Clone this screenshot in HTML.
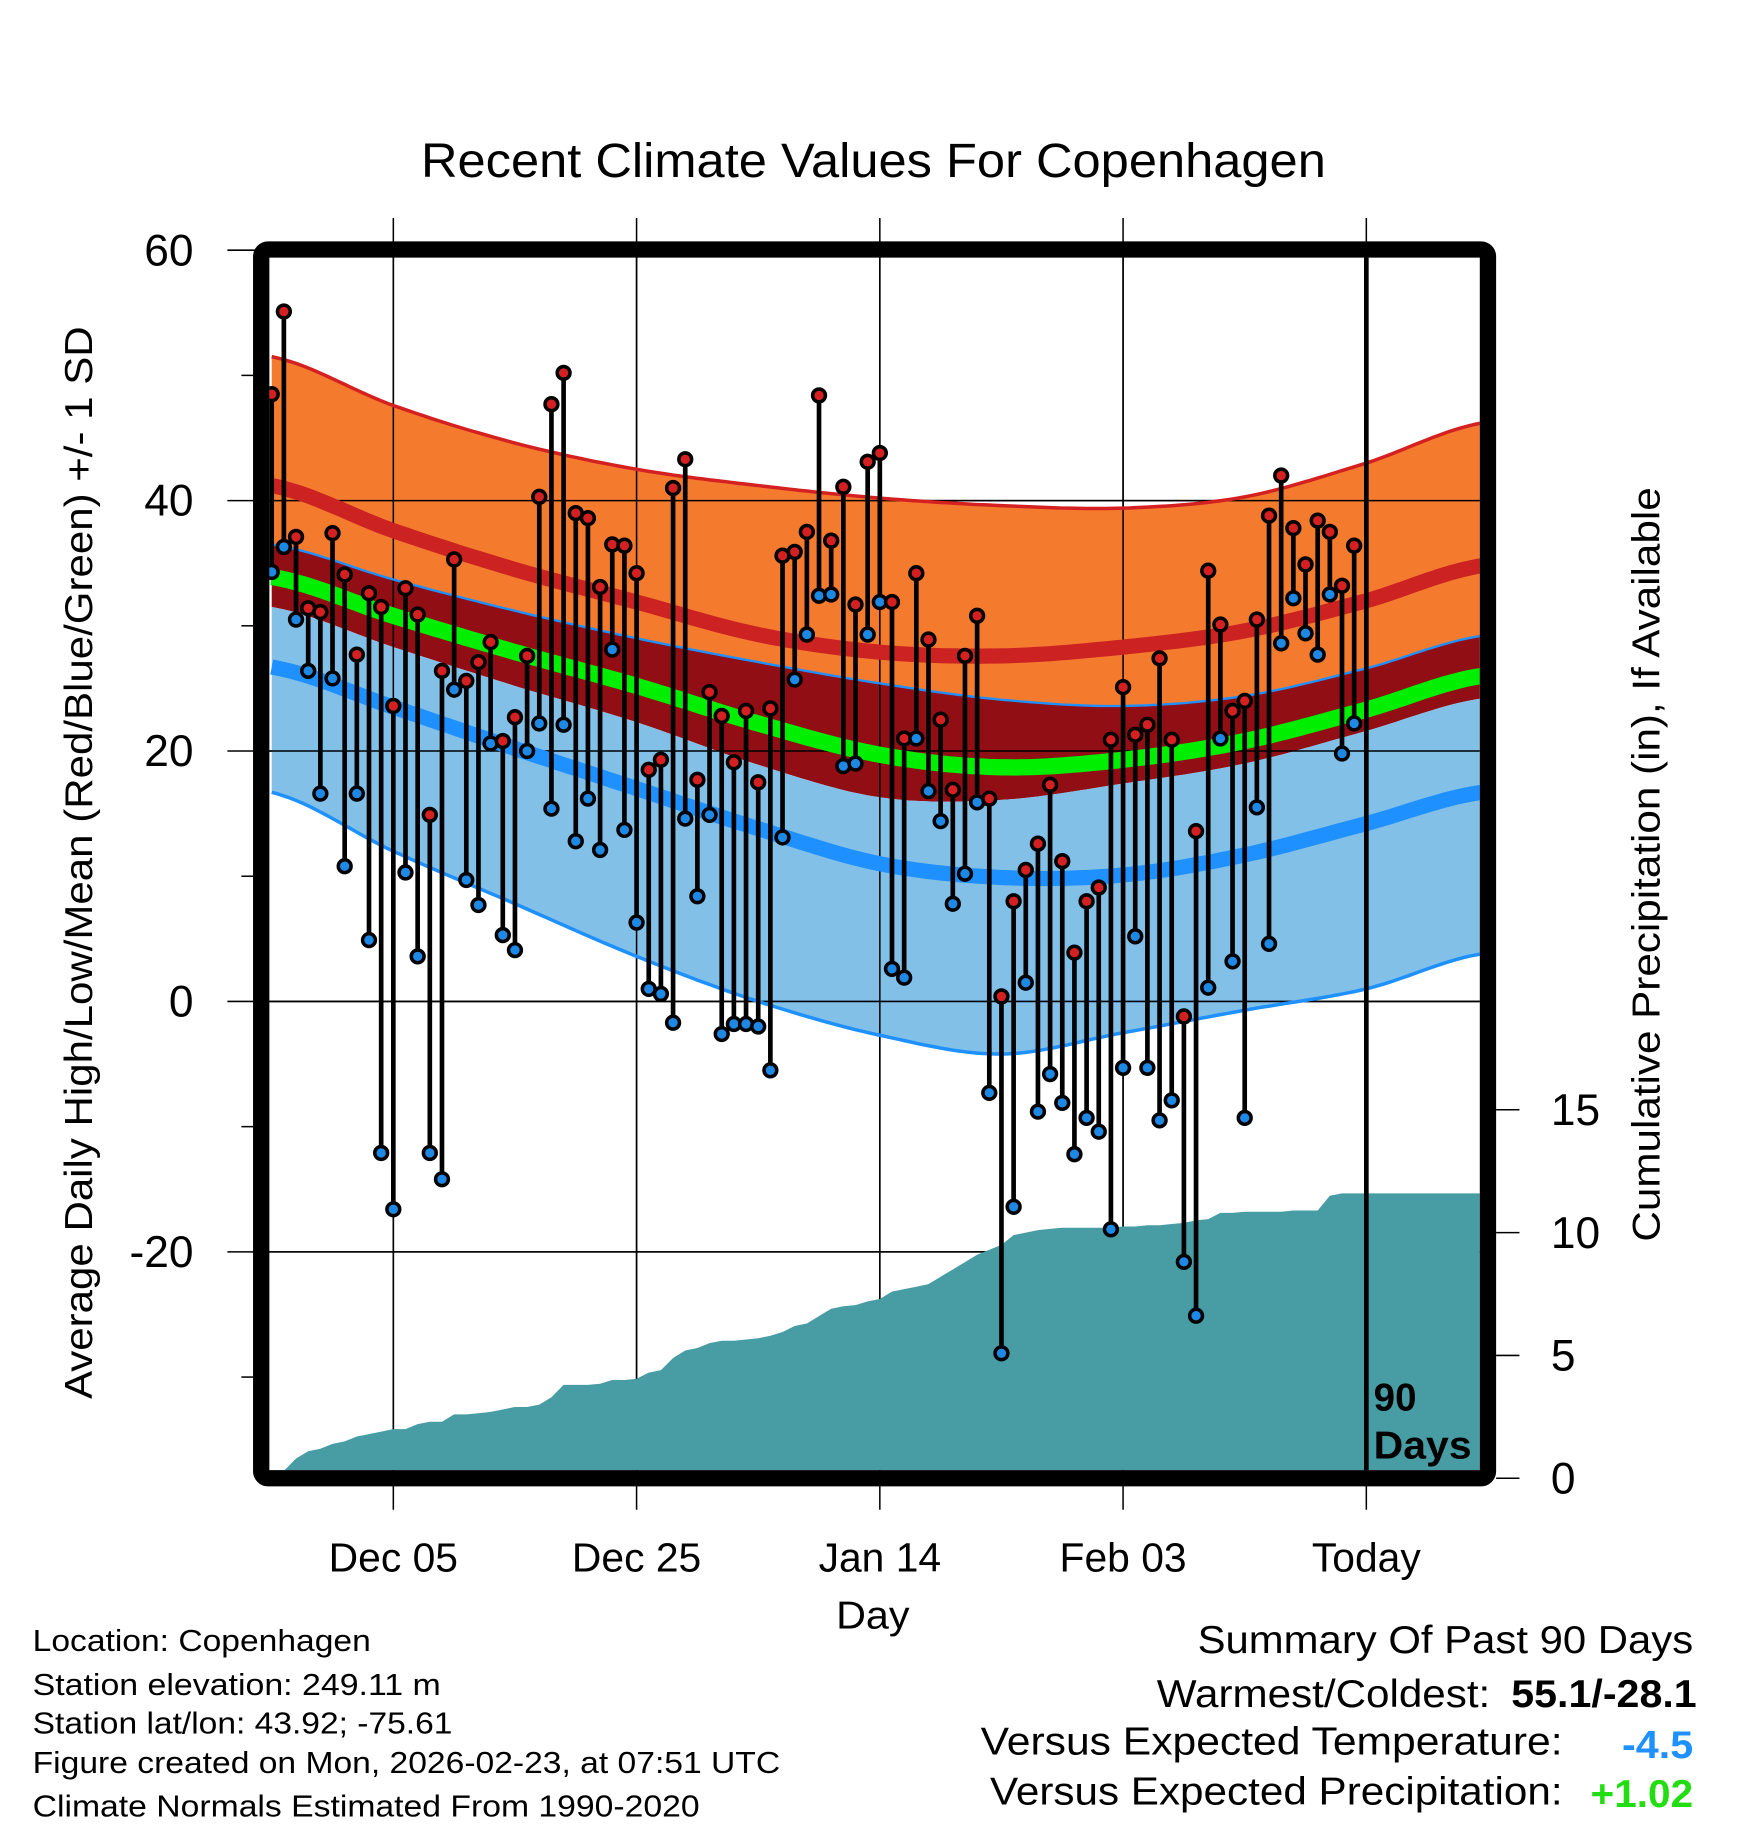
<!DOCTYPE html>
<html><head><meta charset="utf-8"><title>Recent Climate Values For Copenhagen</title>
<style>html,body{margin:0;padding:0;background:#fff}svg{display:block}text{font-family:"Liberation Sans",Arial,sans-serif}</style>
</head><body>
<svg id="chart" xmlns="http://www.w3.org/2000/svg" width="1748" height="1828" viewBox="0 0 1499 1568" preserveAspectRatio="none">
<defs><clipPath id="plotclip"><rect x="231" y="221" width="1038" height="1040"/></clipPath></defs>
<text x="361" y="152" font-size="41" textLength="776" lengthAdjust="spacingAndGlyphs">Recent Climate Values For Copenhagen</text>
<g id="grid"></g>
<g id="plot" clip-path="url(#plotclip)"></g>
<g id="axes"></g>
<rect x="224" y="214" width="1052" height="1054" rx="6" fill="none" stroke="#000" stroke-width="14"/>
<text transform="translate(79,1200) rotate(-90)" font-size="33" textLength="920" lengthAdjust="spacingAndGlyphs">Average Daily High/Low/Mean (Red/Blue/Green) +/- 1 SD</text>
<text transform="translate(1423,1065) rotate(-90)" font-size="33" textLength="647" lengthAdjust="spacingAndGlyphs">Cumulative Precipitation (in), If Available</text>
<text x="717" y="1397" font-size="33" textLength="63" lengthAdjust="spacingAndGlyphs">Day</text>
<g font-size="26">
<text x="28" y="1416" textLength="290" lengthAdjust="spacingAndGlyphs">Location: Copenhagen</text>
<text x="28" y="1454" textLength="350" lengthAdjust="spacingAndGlyphs">Station elevation: 249.11 m</text>
<text x="28" y="1487" textLength="360" lengthAdjust="spacingAndGlyphs">Station lat/lon: 43.92; -75.61</text>
<text x="28" y="1521" textLength="641" lengthAdjust="spacingAndGlyphs">Figure created on Mon, 2026-02-23, at 07:51 UTC</text>
<text x="28" y="1558" textLength="572" lengthAdjust="spacingAndGlyphs">Climate Normals Estimated From 1990-2020</text>
</g>
<g font-size="33">
<text x="1027" y="1418" textLength="425" lengthAdjust="spacingAndGlyphs">Summary Of Past 90 Days</text>
<text x="992" y="1464" textLength="286" lengthAdjust="spacingAndGlyphs">Warmest/Coldest:</text>
<text x="1296" y="1464" font-weight="bold" textLength="159" lengthAdjust="spacingAndGlyphs">55.1/-28.1</text>
<text x="841" y="1505" textLength="499" lengthAdjust="spacingAndGlyphs">Versus Expected Temperature:</text>
<text x="1391" y="1508" font-weight="bold" fill="#1e90ff" textLength="61" lengthAdjust="spacingAndGlyphs">-4.5</text>
<text x="849" y="1548" textLength="491" lengthAdjust="spacingAndGlyphs">Versus Expected Precipitation:</text>
<text x="1364" y="1550" font-weight="bold" fill="#22dd11" textLength="88" lengthAdjust="spacingAndGlyphs">+1.02</text>
</g>
</svg>
<script>
const highs=[48.5,55.1,37.1,31.4,31.1,37.4,34.1,27.7,32.6,31.5,23.6,33.0,30.9,14.9,26.4,35.3,25.6,27.1,28.7,20.8,22.7,27.6,40.3,47.7,50.2,39.0,38.6,33.1,36.5,36.4,34.2,18.5,19.3,41.0,43.3,17.7,24.7,22.8,19.1,23.2,17.5,23.4,35.6,35.9,37.5,48.4,36.8,41.1,31.7,43.1,43.8,31.9,21.0,34.2,28.9,22.5,16.9,27.6,30.8,16.2,0.4,8.0,10.5,12.6,17.3,11.2,3.9,8.0,9.1,20.9,25.1,21.3,22.1,27.4,20.9,-1.2,13.6,34.4,30.1,23.2,24.0,30.5,38.8,42.0,37.8,34.9,38.4,37.5,33.2,36.4];
const lows=[34.3,36.3,30.5,26.4,16.6,25.8,10.8,16.6,4.9,-12.1,-16.6,10.3,3.6,-12.1,-14.2,24.9,9.7,7.7,20.6,5.3,4.1,20.0,22.2,15.4,22.1,12.8,16.2,12.1,28.1,13.7,6.3,1.0,0.6,-1.7,14.6,8.4,14.9,-2.6,-1.8,-1.8,-2.0,-5.5,13.1,25.7,29.3,32.4,32.5,18.8,19.0,29.3,31.9,2.6,1.9,21.0,16.8,14.4,7.8,10.2,15.9,-7.3,-28.1,-16.4,1.5,-8.8,-5.8,-8.1,-12.2,-9.3,-10.4,-18.2,-5.3,5.2,-5.3,-9.5,-7.9,-20.8,-25.1,1.1,21.0,3.2,-9.3,15.5,4.6,28.6,32.2,29.4,27.7,32.5,19.8,22.2];
const precip=[0,0.3,0.8,1.1,1.2,1.4,1.5,1.7,1.8,1.9,2.0,2.0,2.2,2.3,2.3,2.6,2.6,2.65,2.7,2.8,2.9,2.9,3.0,3.3,3.8,3.8,3.8,3.85,4.0,4.0,4.05,4.3,4.4,4.9,5.2,5.3,5.5,5.6,5.6,5.65,5.7,5.8,5.95,6.2,6.3,6.6,6.9,7.0,7.05,7.2,7.3,7.6,7.7,7.8,7.9,8.2,8.5,8.8,9.1,9.3,9.5,9.9,10.0,10.1,10.15,10.2,10.2,10.2,10.2,10.2,10.25,10.25,10.3,10.3,10.35,10.4,10.5,10.55,10.8,10.8,10.85,10.85,10.85,10.85,10.9,10.9,10.9,11.5,11.6,11.6];
const normDays=[0,10,20,30,40,50,60,70,80,90,99.5];
const normHighPlusSD=[51.5,47.6,44.6,42.5,41.2,40.2,39.6,39.4,40.3,43.0,46.2];
const normHigh=[41.2,37.6,34.5,31.9,29.3,27.9,27.6,28.3,29.6,32.0,34.8];
const normHighMinusSD=[36.5,33.7,31.2,29.0,27.1,25.4,24.1,23.6,24.4,26.6,29.2];
const normMean=[33.9,30.8,27.9,25.2,22.2,19.7,18.7,19.3,20.8,23.3,26.0];
const normLowPlusSD=[31.5,28.3,25.2,22.3,18.9,16.3,16.1,17.4,19.0,21.6,24.2];
const normLow=[26.7,23.5,20.2,17.0,13.8,11.0,9.9,10.1,11.7,14.2,16.7];
const normLowMinusSD=[16.7,12.0,7.8,3.6,0.0,-2.7,-4.2,-2.5,-0.7,1.0,3.8];
const yTicks=[60,40,20,0,-20];
const yMinor=[50,30,10,-10,-30];
const y2Ticks=[0,5,10,15];
const xTickDays=[10,30,50,70,90];
const xTickLabels=["Dec 05","Dec 25","Jan 14","Feb 03","Today"];

const NS="http://www.w3.org/2000/svg";
const X=i=>233+10.43*i;
const Y=v=>859-10.74*v;
const Y2=p=>1268-21.07*p;
function mk(tag,attrs,parent){const e=document.createElementNS(NS,tag);for(const k in attrs)e.setAttribute(k,attrs[k]);parent.appendChild(e);return e;}
function interp(vals,d){
  let k=0;while(k<normDays.length-2&&d>normDays[k+1])k++;
  const p0=vals[Math.max(k-1,0)],p1=vals[k],p2=vals[k+1],p3=vals[Math.min(k+2,vals.length-1)];
  const t=(d-normDays[k])/(normDays[k+1]-normDays[k]);
  const t2=t*t,t3=t2*t;
  return 0.5*((2*p1)+(-p0+p2)*t+(2*p0-5*p1+4*p2-p3)*t2+(-p0+3*p1-3*p2+p3)*t3);
}
function samples(){const a=[];for(let d=-0.5;d<=99.5;d+=0.5)a.push(Math.max(0,Math.min(99.5,d)));return a;}
const S=samples();
function linePts(vals){return S.map(d=>X(d).toFixed(1)+","+Y(interp(vals,d)).toFixed(1));}
function band(top,bot){return linePts(top).concat(linePts(bot).reverse()).join(" ");}

const grid=document.getElementById('grid');
const plot=document.getElementById('plot');
const axes=document.getElementById('axes');

yTicks.forEach(v=>{
  const l=mk('line',{x1:195,x2:1269,y1:Y(v),y2:Y(v),stroke:'#000','stroke-width':1.3},grid);
  
  
  const t=mk('text',{x:166,y:Y(v)+13,'font-size':38,'text-anchor':'end'},axes);
  t.textContent=v;
  
  
});
yMinor.forEach(v=>{
  const l=mk('line',{x1:207,x2:217,y1:Y(v),y2:Y(v),stroke:'#000','stroke-width':1.3},axes);
  
  
});
xTickDays.forEach((d,k)=>{
  const l=mk('line',{x1:X(d),x2:X(d),y1:187,y2:1295,stroke:'#000','stroke-width':1.3},grid);
  
  
  const t=mk('text',{x:X(d),y:1348,'font-size':35,'text-anchor':'middle'},axes);
  t.textContent=xTickLabels[k];
  
  
});
y2Ticks.forEach(p=>{
  const l=mk('line',{x1:1283,x2:1303,y1:Y2(p),y2:Y2(p),stroke:'#000','stroke-width':1.3},axes);
  
  
  const t=mk('text',{x:1330,y:Y2(p)+13,'font-size':38},axes);
  t.textContent=p;
  
  
});

let e;
e=mk('polygon',{points:band(normHighPlusSD,normHighMinusSD),fill:'#f47a2e'},plot);


e=mk('polygon',{points:band(normHighMinusSD,normLowPlusSD),fill:'#910e14'},plot);


e=mk('polygon',{points:band(normLowPlusSD,normLowMinusSD),fill:'#82c0e8'},plot);


yTicks.forEach(v=>{const l=mk('line',{x1:231,x2:1269,y1:Y(v),y2:Y(v),stroke:'#000','stroke-width':1.3},plot);
  
  });
xTickDays.forEach(d=>{const l=mk('line',{x1:X(d),x2:X(d),y1:221,y2:1261,stroke:'#000','stroke-width':1.3},plot);
  
  });
function curve(vals,color,w,name){const p=mk('polyline',{points:linePts(vals).join(" "),fill:'none',stroke:color,'stroke-width':w},plot);
  
  }
curve(normHighPlusSD,'#d42020',3,'high-plus-sd-line');
curve(normHigh,'#cc2222',13,'normal-high-line');
curve(normHighMinusSD,'#1e90ff',2,'high-minus-sd-line');
curve(normMean,'#00ee00',14,'normal-mean-line');
curve(normLow,'#1e90ff',13,'normal-low-line');
curve(normLowMinusSD,'#1e90ff',3,'low-minus-sd-line');

let pp=[];
pp.push(X(0.7)+","+Y2(0));
precip.forEach((p,i)=>{if(i>0)pp.push(X(i).toFixed(1)+","+Y2(p).toFixed(1));});
pp.push(X(100)+","+Y2(precip[precip.length-1]));
pp.push(X(100)+","+Y2(0));
e=mk('polygon',{points:pp.join(" "),fill:'#489ca4'},plot);



highs.forEach((h,i)=>{
  const l=mk('line',{x1:X(i),x2:X(i),y1:Y(h),y2:Y(lows[i]),stroke:'#000','stroke-width':4},plot);
  
  
});
highs.forEach((h,i)=>{
  const c=mk('circle',{cx:X(i),cy:Y(lows[i]),r:5.5,fill:'#1e88e5',stroke:'#000','stroke-width':3},plot);
  
  
  const c2=mk('circle',{cx:X(i),cy:Y(h),r:5.5,fill:'#d42020',stroke:'#000','stroke-width':3},plot);
  
  
});
e=mk('line',{x1:X(90),x2:X(90),y1:214,y2:1268,stroke:'#000','stroke-width':4},plot);


e=mk('text',{x:1178,y:1210,'font-size':33,'font-weight':'bold'},plot);
e.textContent='90';


e=mk('text',{x:1178,y:1251,'font-size':33,'font-weight':'bold',textLength:84,lengthAdjust:'spacingAndGlyphs'},plot);
e.textContent='Days';


</script>
</body></html>
